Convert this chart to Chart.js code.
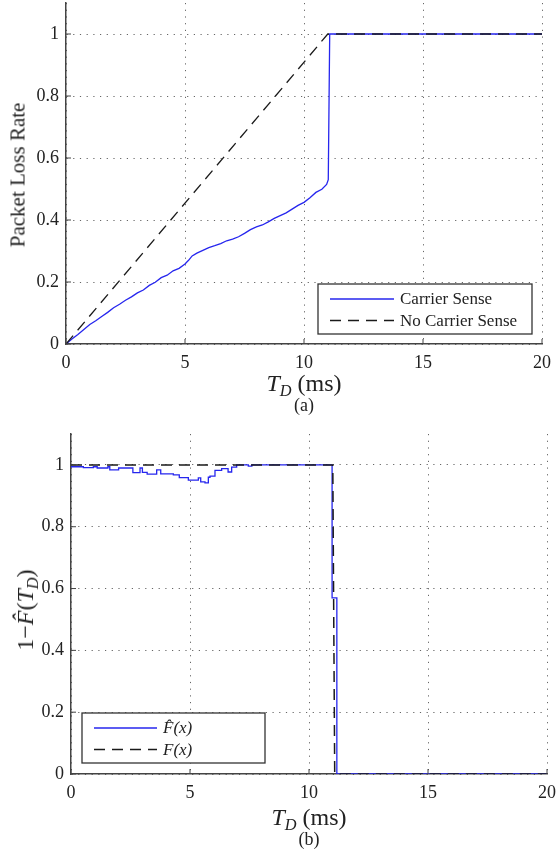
<!DOCTYPE html>
<html>
<head>
<meta charset="utf-8">
<script src="https://cdn.jsdelivr.net/npm/chart.js@4.4.1/dist/chart.umd.min.js"></script>
<style>
  body { margin:0; background:#fff; width:557px; height:850px; position:relative; overflow:hidden;
         font-family:"Liberation Serif","DejaVu Serif",serif; color:#222; }
  canvas { position:absolute; left:0; }
  .lbl { position:absolute; white-space:nowrap; transform:translate(-50%,-50%); line-height:1; }
  .rot { transform:translate(-50%,-50%) rotate(-90deg); }
  sub { font-size:0.68em; vertical-align:-0.3em; line-height:0; font-style:italic; }
</style>
</head>
<body>
<canvas id="chartA" width="557" height="420" style="top:0"></canvas>
<canvas id="chartB" width="557" height="425" style="top:425px"></canvas>

<div class="lbl rot" style="left:18px;top:175px;font-size:21px">Packet Loss Rate</div>
<div class="lbl" style="left:304px;top:383px;font-size:24px"><i>T</i><sub>D</sub> (ms)</div>
<div class="lbl" style="left:304px;top:405px;font-size:18px">(a)</div>

<div class="lbl rot" style="left:25px;top:610px;font-size:24px">1&minus;<i>F&#770;</i>(<i>T</i><sub>D</sub>)</div>
<div class="lbl" style="left:309px;top:817px;font-size:24px"><i>T</i><sub>D</sub> (ms)</div>
<div class="lbl" style="left:309px;top:839px;font-size:18px">(b)</div>

<script>
// axis ticks
const xTicks = [0, 5, 10, 15, 20];
const yTicks = [0, 0.2, 0.4, 0.6, 0.8, 1];

// (a) packet loss rate
const tdCarrier = [0, 0.25, 0.5, 0.75, 1, 1.25, 1.5, 1.75, 2, 2.25, 2.5, 2.75, 3, 3.25, 3.5, 3.75,
  4, 4.25, 4.5, 4.75, 5, 5.15, 5.3, 5.5, 5.75, 6, 6.25, 6.5, 6.75, 7, 7.25, 7.5, 7.75, 8, 8.25,
  8.5, 8.75, 9, 9.25, 9.5, 9.75, 10, 10.25, 10.5, 10.75, 10.95, 11.02, 11.08, 20];
const lossCarrier = [0, 0.016, 0.031, 0.047, 0.063, 0.075, 0.089, 0.102, 0.117, 0.128, 0.141, 0.152,
  0.165, 0.174, 0.189, 0.199, 0.214, 0.222, 0.236, 0.244, 0.258, 0.270, 0.284, 0.293, 0.302, 0.311,
  0.317, 0.324, 0.333, 0.338, 0.346, 0.357, 0.369, 0.378, 0.384, 0.394, 0.405, 0.414, 0.423, 0.435,
  0.447, 0.457, 0.472, 0.489, 0.499, 0.515, 0.53, 1, 1];
const tdNoCarrier = [0, 11, 20];
const lossNoCarrier = [0, 1, 1];

// (b) 1 - F(T_D), empirical vs model
const tdHat = [0, 0.52, 0.94, 1.1, 1.55, 1.63, 2.0, 2.6, 2.9, 3.0, 3.2, 3.6, 3.77, 4.3, 4.55, 4.93,
  5.35, 5.45, 5.63, 5.77, 5.84, 6.05, 6.33, 6.6, 6.75, 6.96, 7.45, 7.6, 10.97, 11.17, 20];
const fHat = [0.994, 0.991, 0.994, 0.990, 0.994, 0.984, 0.990, 0.975, 0.990, 0.976, 0.970, 0.984,
  0.971, 0.968, 0.959, 0.951, 0.958, 0.945, 0.942, 0.960, 0.964, 0.982, 0.988, 0.977, 0.993, 1.0,
  0.996, 1.0, 0.57, 0, 0];
const tdModel = [0, 11.0, 11.08, 20];
const fModel = [1, 1, 0, 0];

const BLUE = '#2626ee';
const BLACK = '#1a1a1a';
const DASH = [11, 7];
Chart.defaults.font.family = 'Liberation Serif';
const tickFont = { family: 'Liberation Serif', size: 18 };

const pts = (xs, ys) => xs.map((x, i) => ({ x, y: ys[i] }));

// legend drawn inside the plot area, matlab style
const legendBox = {
  id: 'legendBox',
  afterDatasetsDraw(chart, args, o) {
    const { ctx, chartArea: a } = chart;
    const x = o.left != null ? a.left + o.left : a.right - o.right - o.width;
    const y = a.bottom - o.bottom - o.height;
    ctx.save();
    ctx.fillStyle = '#fff';
    ctx.fillRect(x, y, o.width, o.height);
    ctx.strokeStyle = '#333';
    ctx.lineWidth = 1.3;
    ctx.strokeRect(x, y, o.width, o.height);
    chart.data.datasets.forEach((ds, i) => {
      const ly = y + 15 + i * 21.5;
      ctx.strokeStyle = ds.borderColor;
      ctx.lineWidth = ds.borderWidth;
      ctx.setLineDash(ds.borderDash || []);
      ctx.beginPath();
      ctx.moveTo(x + 12, ly);
      ctx.lineTo(x + 12 + o.line, ly);
      ctx.stroke();
      ctx.setLineDash([]);
      ctx.fillStyle = '#222';
      ctx.font = o.font;
      ctx.textBaseline = 'middle';
      ctx.fillText(ds.label, x + 18 + o.line, ly + 1);
    });
    ctx.restore();
  }
};

// small inward tick marks
const innerTicks = {
  id: 'innerTicks',
  afterDraw(chart) {
    const { ctx, chartArea: a, scales } = chart;
    ctx.save();
    ctx.strokeStyle = '#444';
    ctx.lineWidth = 1;
    ctx.beginPath();
    scales.x.ticks.forEach(t => {
      const px = scales.x.getPixelForValue(t.value);
      ctx.moveTo(px, a.bottom); ctx.lineTo(px, a.bottom - 5);
    });
    scales.y.ticks.forEach(t => {
      const py = scales.y.getPixelForValue(t.value);
      ctx.moveTo(a.left, py); ctx.lineTo(a.left + 5, py);
    });
    ctx.stroke();
    ctx.restore();
  }
};

function makeChart(id, datasets, pad, yWidth, legend) {
  return new Chart(document.getElementById(id), {
    type: 'scatter',
    data: { datasets },
    options: {
      responsive: false,
      animation: false,
      layout: { padding: pad },
      plugins: { legend: { display: false }, tooltip: { enabled: false }, legendBox: legend },
      elements: { point: { radius: 0 } },
      scales: {
        x: {
          type: 'linear', min: 0, max: 20,
          afterBuildTicks: s => { s.ticks = xTicks.map(v => ({ value: v })); },
          afterFit: s => { s.height = 76; s.paddingLeft = 0; s.paddingRight = 0; },
          grid: { color: '#666', lineWidth: 1, drawTicks: false },
          border: { color: '#444', width: 1.5, dash: [1.2, 5.5] },
          ticks: { font: tickFont, color: '#222', padding: 8, maxRotation: 0, callback: v => String(v) }
        },
        y: {
          type: 'linear', min: 0, max: 1.1,
          afterBuildTicks: s => { s.ticks = yTicks.map(v => ({ value: v })); },
          afterFit: s => { s.width = yWidth; s.paddingTop = 0; s.paddingBottom = 0; },
          grid: { color: '#666', lineWidth: 1, drawTicks: false },
          border: { color: '#444', width: 1.5, dash: [1.2, 5.5] },
          ticks: { font: tickFont, color: '#222', padding: 7, callback: v => String(+v.toFixed(1)) }
        }
      }
    },
    plugins: [legendBox, innerTicks]
  });
}

makeChart('chartA', [
  { label: 'Carrier Sense', data: pts(tdCarrier, lossCarrier), showLine: true, borderColor: BLUE,
    borderWidth: 1.3, order: 2 },
  { label: 'No Carrier Sense', data: pts(tdNoCarrier, lossNoCarrier), showLine: true, borderColor: BLACK,
    borderWidth: 1.3, borderDash: DASH, order: 1 }
], { left: 0, right: 15, top: 3, bottom: 0 }, 66,
  { right: 10, bottom: 10, width: 214, height: 50, line: 64, font: '17px "Liberation Serif", serif' });

// each value holds until the next step
makeChart('chartB', [
  { label: 'F\u0302(x)', data: pts(tdHat, fHat), showLine: true, stepped: 'before', borderColor: BLUE,
    borderWidth: 1.3, order: 2 },
  { label: 'F(x)', data: pts(tdModel, fModel), showLine: true, borderColor: BLACK,
    borderWidth: 1.5, borderDash: DASH, order: 1 }
], { left: 0, right: 10, top: 9, bottom: 0 }, 71,
  { left: 11, bottom: 11, width: 183, height: 50, line: 63, font: 'italic 17px "Liberation Serif", serif' });
</script>
</body>
</html>
